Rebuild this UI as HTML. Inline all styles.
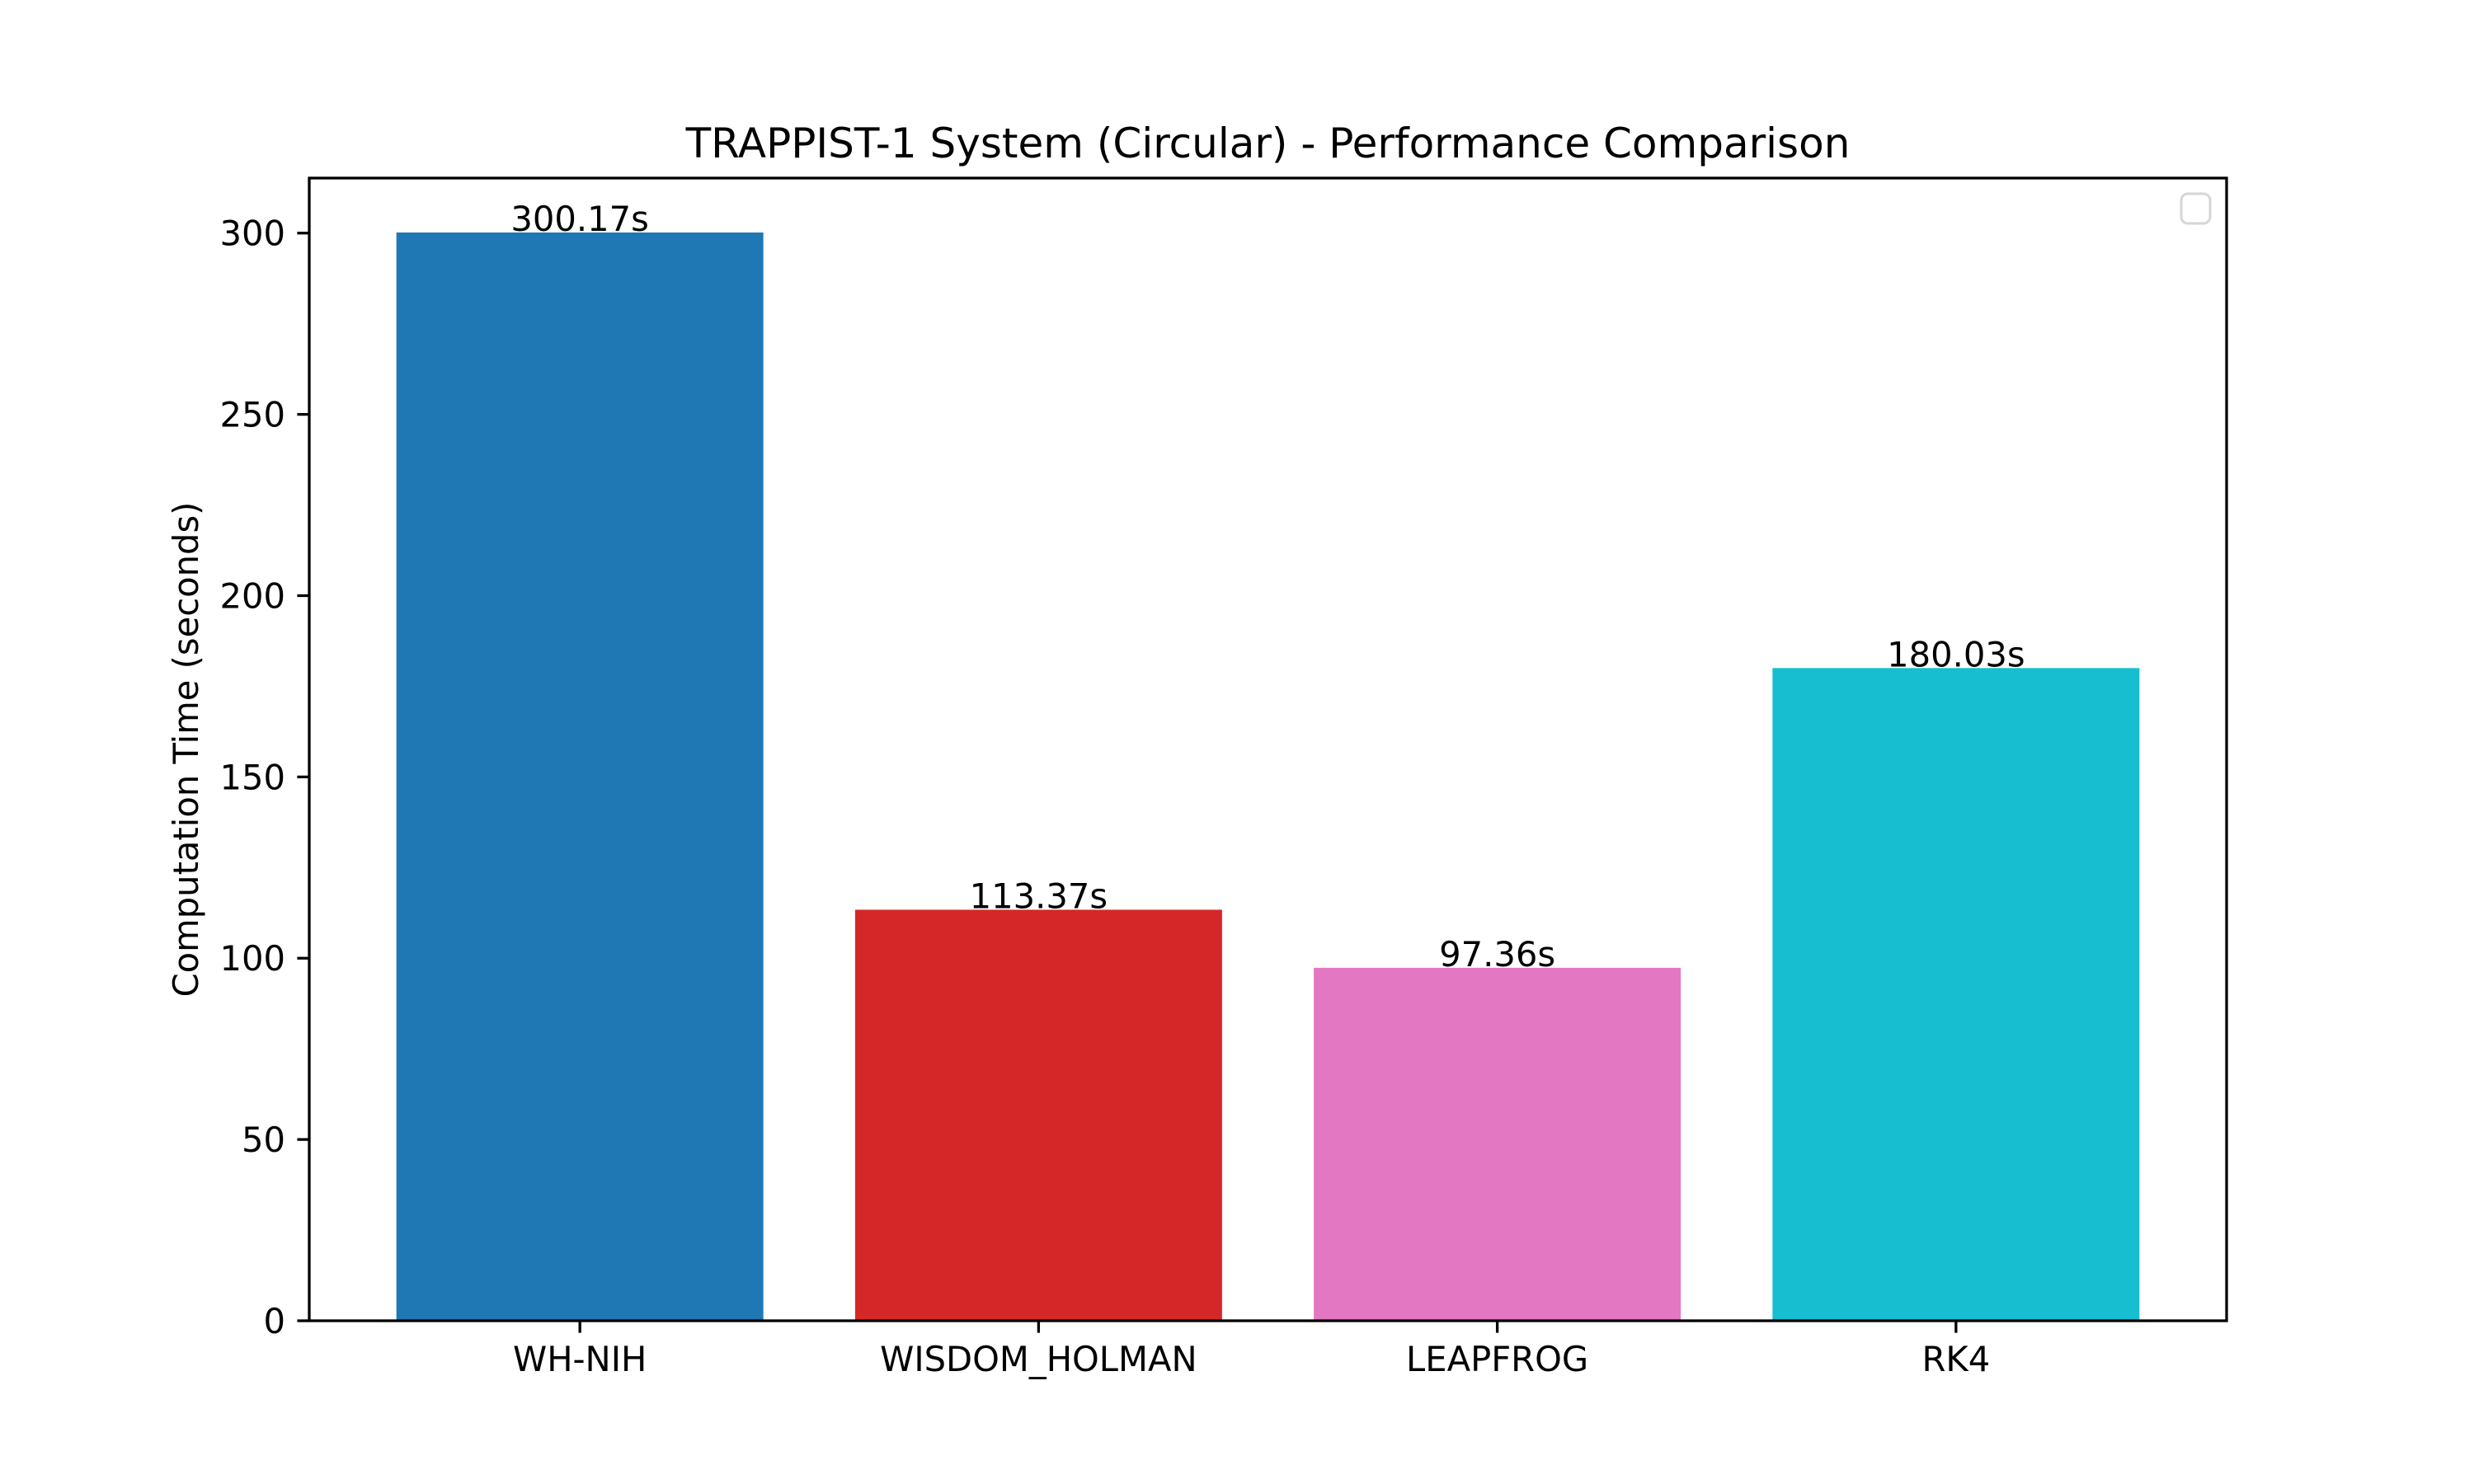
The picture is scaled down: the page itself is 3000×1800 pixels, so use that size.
<!DOCTYPE html>
<html><head><meta charset="utf-8"><style>html,body{margin:0;padding:0;background:#fff}svg{display:block}text{font-family:"DejaVu Sans","Liberation Sans",sans-serif;fill:#000}</style></head>
<body>
<svg id="chart" width="3000" height="1800" viewBox="0 0 3000 1800" xmlns="http://www.w3.org/2000/svg">
<rect width="3000" height="1800" fill="#fff"/>
<text x="1537.5" y="191" font-size="50" text-anchor="middle">TRAPPIST-1 System (Circular) - Performance Comparison</text>
<text transform="translate(240,909) rotate(-90)" font-size="41.67" text-anchor="middle">Computation Time (seconds)</text>
<g id="bars"></g>
<g id="labels"></g>
<g id="yticks"></g>
<g id="xticks"></g>
<rect x="375" y="216" width="2325" height="1386" fill="none" stroke="#000" stroke-width="3.3"/>
<rect x="2645" y="235" width="35" height="36" rx="8" fill="#fff" stroke="#d6d6d6" stroke-width="3"/>
</svg>
<script>
const categories = ["WH-NIH", "WISDOM_HOLMAN", "LEAPFROG", "RK4"];
const values = [300.17, 113.37, 97.36, 180.03];
const colors = ["#1f77b4", "#d62728", "#e377c2", "#17becf"];
const yTicks = [0, 50, 100, 150, 200, 250, 300];

const L = 375, R = 2700, T = 216, B = 1602;
const ymax = Math.max(...values) * 1.05;
const xmin = -0.59, xmax = categories.length - 1 + 0.59;
const sx = v => L + (v - xmin) / (xmax - xmin) * (R - L);
const sy = v => B - v / ymax * (B - T);
const NS = "http://www.w3.org/2000/svg";
function mk(tag, attrs, parent) {
  const e = document.createElementNS(NS, tag);
  for (const k in attrs) e.setAttribute(k, attrs[k]);
  parent.appendChild(e);
  return e;
}
const gb = document.getElementById('bars'), gl = document.getElementById('labels');
const gy = document.getElementById('yticks'), gx = document.getElementById('xticks');
categories.forEach((c, i) => {
  const x0 = sx(i - 0.4), x1 = sx(i + 0.4), y = sy(values[i]);
  const r = mk('rect', {x: x0, y: y, width: x1 - x0, height: B - y, fill: colors[i]}, gb);
  
  
  const t = mk('text', {x: sx(i), y: y - 2, 'font-size': 41.67, 'text-anchor': 'middle'}, gl);
  t.textContent = values[i].toFixed(2) + 's';
  
  
  const tk = mk('line', {x1: sx(i), x2: sx(i), y1: B, y2: B + 14.6, stroke: '#000', 'stroke-width': 3.3}, gx);
  
  
  const tl = mk('text', {x: sx(i), y: 1663, 'font-size': 41.67, 'text-anchor': 'middle'}, gx);
  tl.textContent = c;
  
  
});
yTicks.forEach(v => {
  const y = sy(v);
  const tk = mk('line', {x1: L - 14.6, x2: L, y1: y, y2: y, stroke: '#000', 'stroke-width': 3.3}, gy);
  
  
  const tl = mk('text', {x: L - 29, y: y + 15, 'font-size': 41.67, 'text-anchor': 'end'}, gy);
  tl.textContent = v;
  
  
});
</script>
</body></html>
